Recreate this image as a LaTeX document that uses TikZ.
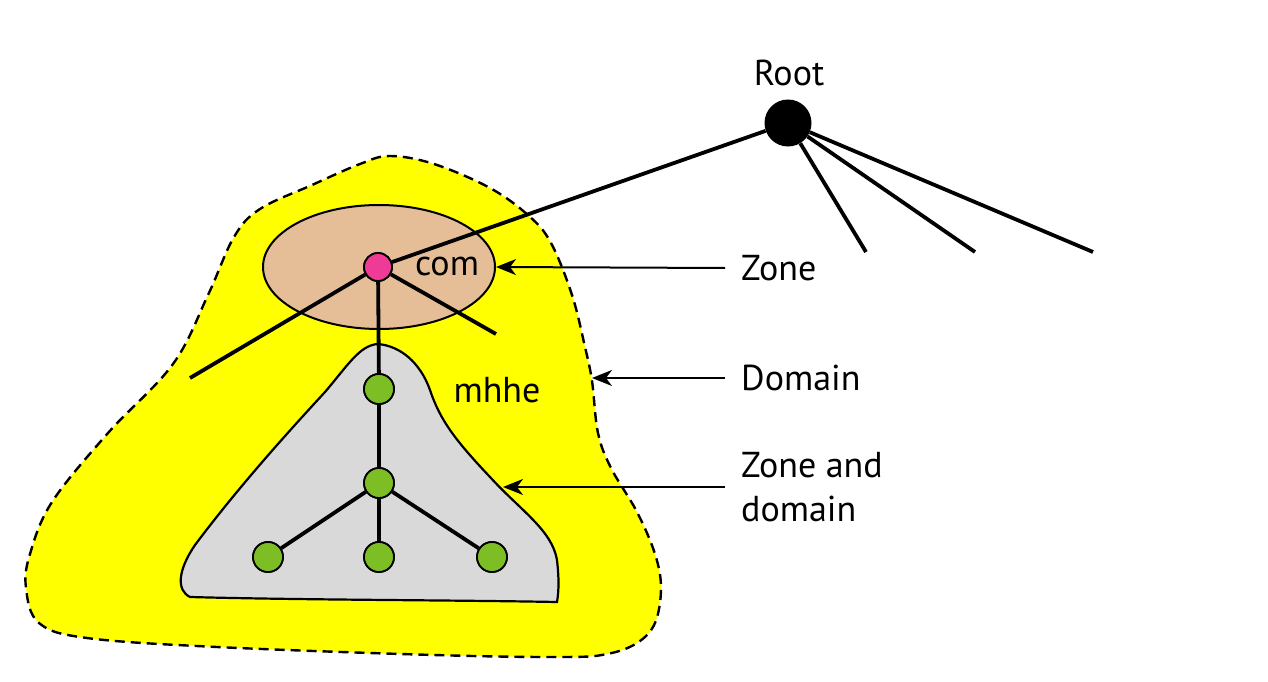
\documentclass[tikz,border=0pt]{standalone}
\usepackage{fontspec}
\setmainfont{PT Sans}
\usetikzlibrary{arrows.meta,shapes.geometric}
\definecolor{dyellow}{HTML}{FFFF00}
\definecolor{ztan}{HTML}{E5BE98}
\definecolor{zpink}{HTML}{EE3C96}
\definecolor{zgreen}{HTML}{7DBE25}
\definecolor{zgray}{HTML}{D9D9D9}
\tikzset{
  treeline/.style={line width=3.8pt},
  leaf/.style={circle,draw=black,line width=1.8pt,fill=zgreen,minimum size=30pt,inner sep=0pt},
  lbl/.style={font=\fontsize{36}{44}\selectfont,inner ysep=0pt,inner xsep=16pt,anchor=west,align=left},
  txt/.style={font=\fontsize{36}{44}\selectfont,inner sep=0pt},
  pointer/.style={line width=2pt,-{Stealth[length=20pt,width=16pt,inset=6pt]}}
}
\begin{document}
\begin{tikzpicture}[x=1pt,y=-1pt]
\useasboundingbox (0,0) rectangle (1268,682);
\fill[white] (0,0) rectangle (1268,682);
% domain blob
\draw[fill=dyellow,line width=2.4pt,dash pattern=on 10pt off 6pt]
  plot[smooth cycle,tension=0.6] coordinates {
  (390,156) (434,164) (490,188) (529,216) (551,243) (572,295) (585,347)
  (592,381) (598,433) (611,468) (637,512) (655,554) (661,588) (655,623)
  (637,643) (607,654) (564,657) (434,655) (217,647) (87,638) (39,623)
  (26,588) (30,554) (52,502) (108,433) (173,364) (208,295) (234,237)
  (260,209) (312,185) (360,164)};
% zone ellipse
\node[ellipse,draw=black,line width=2pt,fill=ztan,minimum width=232pt,minimum height=124pt] (zoneell) at (379,267) {};
% zone-and-domain shape
\draw[fill=zgray,line width=2.2pt]
  (378,344) .. controls (400,346) and (420,362) .. (430,390)
  .. controls (440,420) and (455,440) .. (490,477)
  .. controls (520,510) and (552,530) .. (557,560)
  .. controls (559,578) and (559,590) .. (557,602)
  .. controls (450,600) and (300,600) .. (190,597)
  .. controls (176,590) and (178,570) .. (195,545)
  .. controls (240,485) and (290,430) .. (325,392)
  .. controls (348,365) and (360,345) .. (378,344) -- cycle;
% nodes
\node[circle,fill=black,minimum size=47pt,inner sep=0pt] (root) at (788,123) {};
\node[circle,draw=black,line width=1.8pt,fill=zpink,minimum size=28pt,inner sep=0pt] (com) at (378,267) {};
\node[leaf] (g1) at (379,389) {};
\node[leaf] (g2) at (379,483) {};
\node[leaf] (g3) at (268,557) {};
\node[leaf] (g4) at (379,557) {};
\node[leaf] (g5) at (492,557) {};
% free ends
\coordinate (r1) at (866,252);
\coordinate (r2) at (975,252);
\coordinate (r3) at (1093,252);
\coordinate (c1) at (190,378);
\coordinate (c2) at (496,334);
% tree lines
\draw[treeline] (root) -- (com);
\draw[treeline] (root) -- (r1);
\draw[treeline] (root) -- (r2);
\draw[treeline] (root) -- (r3);
\draw[treeline] (com) -- (c1);
\draw[treeline] (com) -- (c2);
\draw[treeline] (com) -- (g1);
\draw[treeline] (g1) -- (g2);
\draw[treeline] (g2) -- (g3);
\draw[treeline] (g2) -- (g4);
\draw[treeline] (g2) -- (g5);
% redraw nodes over lines
\node[circle,draw=black,line width=1.8pt,fill=zpink,minimum size=28pt,inner sep=0pt] at (com) {};
\foreach \g in {g1,g2,g3,g4,g5} \node[leaf] at (\g) {};
% texts
\node[txt] (roott) at (789,73) {Root};
\node[txt] (comt) at (447,266) {com};
\node[txt] (mhhe) at (497,390) {mhhe};
\node[lbl] (zone) at (725,268) {Zone};
\node[lbl] (domain) at (725,378) {Domain};
\node[lbl] (zad) at (725,487) {Zone and\\domain};
% pointers
\coordinate (dtip) at (592,378);
\coordinate (zdtip) at (503,487);
\draw[pointer] (zone.west) -- (zoneell.east);
\draw[pointer] (domain.west) -- (dtip);
\draw[pointer] (zad.west) -- (zdtip);
\end{tikzpicture}
\end{document}
